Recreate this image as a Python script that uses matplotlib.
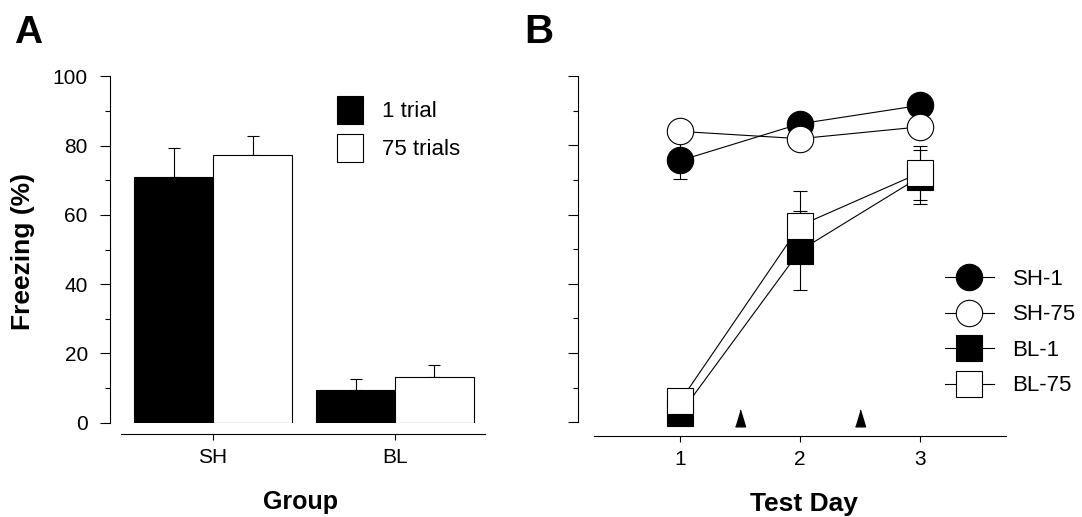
import matplotlib.pyplot as plt

plt.rcParams['font.family'] = ['Liberation Sans', 'DejaVu Sans']

# panel A data
groups = ['SH', 'BL']
one_trial = [70.9, 9.3]
one_trial_err = [8.4, 3.4]
many_trials = [77.3, 13.3]
many_trials_err = [5.5, 3.4]

# panel B data
days = [1, 2, 3]
sh1 = [75.6, 86.2, 91.5]
sh1_err = [5.2, 3.0, 2.5]
sh75 = [84.0, 81.9, 85.3]
sh75_err = [3.0, 3.0, 3.0]
bl1 = [2.6, 49.6, 70.8]
bl1_err = [1.5, 11.4, 7.8]
bl75 = [6.2, 56.8, 72.0]
bl75_err = [2.0, 10.1, 7.7]
arrow_days = [1.5, 2.5]
arrow_y = [1.2, 1.2]

fig = plt.figure(figsize=(10.82, 5.17), dpi=100)
W, H = 1082, 517

def px_axes(left, right, top, bottom):
    return fig.add_axes([left / W, 1 - bottom / H, (right - left) / W, (bottom - top) / H])

# ---- Panel A ----
axA = px_axes(110, 485, 76.3, 422.7)
w = 0.434
xs = list(range(len(groups)))
x1 = [x - w / 2 for x in xs]
x2 = [x + w / 2 for x in xs]
axA.errorbar(x1, one_trial, yerr=[[0] * 2, one_trial_err], fmt='none', ecolor='black',
             elinewidth=0.8, capsize=4, capthick=0.8, zorder=1)
axA.errorbar(x2, many_trials, yerr=[[0] * 2, many_trials_err], fmt='none', ecolor='black',
             elinewidth=0.8, capsize=4, capthick=0.8, zorder=1)
axA.bar(x1, one_trial, width=w, color='black', edgecolor='black', linewidth=0.8,
        label='1 trial', zorder=2)
axA.bar(x2, many_trials, width=w, color='white', edgecolor='black', linewidth=0.8,
        label='75 trials', zorder=2)
axA.set_xlim(-0.566, 1.4945)
axA.set_ylim(0, 100)
axA.set_xticks(xs)
axA.set_xticklabels(groups)
axA.set_yticks(range(0, 101, 20))
axA.set_yticks(range(10, 100, 20), minor=True)
axA.set_ylabel('Freezing (%)', fontsize=19, fontweight='bold')
axA.yaxis.set_label_coords(-0.2, 0.494)
axA.set_xlabel('Group', fontsize=18, fontweight='bold')
axA.xaxis.set_label_coords(0.507, -0.195)
axA.legend(loc='upper left', bbox_to_anchor=(337 / W, 1 - 96 / H), bbox_transform=fig.transFigure,
           frameon=False, fontsize=16, handlelength=1.17, handleheight=1.55,
           handletextpad=0.86, labelspacing=0.45, borderpad=0, borderaxespad=0)

# ---- Panel B ----
axB = px_axes(578, 1006, 76.0, 422.3)
axB.errorbar(days, sh1, yerr=sh1_err, fmt='none', ecolor='black', elinewidth=0.8,
             capsize=5, capthick=0.8, zorder=1, clip_on=False)
axB.errorbar(days, sh75, yerr=sh75_err, fmt='none', ecolor='black', elinewidth=0.8,
             capsize=5, capthick=0.8, zorder=1, clip_on=False)
axB.errorbar(days, bl1, yerr=bl1_err, fmt='none', ecolor='black', elinewidth=0.8,
             capsize=5, capthick=0.8, zorder=1, clip_on=False)
axB.errorbar(days, bl75, yerr=bl75_err, fmt='none', ecolor='black', elinewidth=0.8,
             capsize=5, capthick=0.8, zorder=1, clip_on=False)
axB.plot(days, sh1, color='black', lw=0.8, marker='o', ms=19, mfc='black', mec='black',
         mew=0.8, label='SH-1', zorder=2, clip_on=False)
axB.plot(days, sh75, color='black', lw=0.8, marker='o', ms=19, mfc='white', mec='black',
         mew=0.8, label='SH-75', zorder=3, clip_on=False)
axB.plot(days, bl1, color='black', lw=0.8, marker='s', ms=18.5, mfc='black', mec='black',
         mew=0.8, label='BL-1', zorder=4, clip_on=False)
axB.plot(days, bl75, color='black', lw=0.8, marker='s', ms=18.5, mfc='white', mec='black',
         mew=0.8, label='BL-75', zorder=5, clip_on=False)
tri = [(-0.3, -0.5), (0.3, -0.5), (0, 0.5)]
axB.plot(arrow_days, arrow_y, ls='none', marker=tri, ms=12, color='black', clip_on=False)
axB.set_xlim(0.144, 3.7225)
axB.set_ylim(0, 100)
axB.set_xticks(days)
axB.set_yticks(range(0, 101, 20))
axB.set_yticks(range(10, 100, 20), minor=True)
axB.set_yticklabels([])
axB.set_xlabel('Test Day', fontsize=19, fontweight='bold')
axB.xaxis.set_label_coords(0.528, -0.2)
axB.legend(loc='upper left', bbox_to_anchor=(945 / W, 1 - 269 / H), bbox_transform=fig.transFigure,
           frameon=False, fontsize=16, numpoints=1, handlelength=2.2,
           handletextpad=0.84, labelspacing=0.65, borderpad=0, borderaxespad=0)

for ax, off, lo in [(axA, 8.1, -0.5077), (axB, 9.6, 0.2775)]:
    ax.spines['top'].set_visible(False)
    ax.spines['right'].set_visible(False)
    ax.spines['bottom'].set_position(('outward', off))
    ax.spines['bottom'].set_bounds(lo, ax.get_xlim()[1])
    for s in ('left', 'bottom'):
        ax.spines[s].set_linewidth(0.8)
    ax.tick_params(axis='y', which='major', length=7, width=0.8, pad=9, labelsize=15)
    ax.tick_params(axis='y', which='minor', length=3.5, width=0.8)
    ax.tick_params(axis='x', which='major', length=4, width=0.8, pad=6, labelsize=15)

fig.text(14 / W, 1 - 43 / H, 'A', fontsize=28, fontweight='bold', ha='left', va='baseline')
fig.text(524 / W, 1 - 43 / H, 'B', fontsize=29, fontweight='bold', ha='left', va='baseline')

fig.savefig('out.png', dpi=100)
